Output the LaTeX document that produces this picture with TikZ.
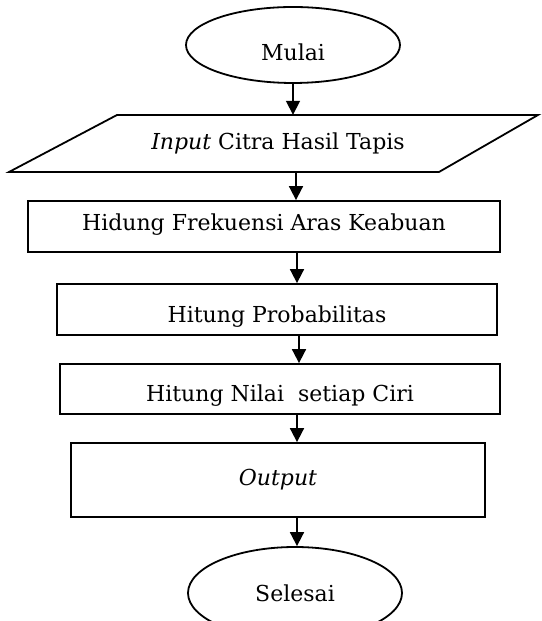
\documentclass[tikz,border=0pt]{standalone}
\usepackage{fontspec}
\setmainfont{DejaVu Serif}
\usetikzlibrary{shapes.geometric,arrows.meta}
\begin{document}
\begin{tikzpicture}[x=1pt,y=1pt,
  every node/.style={font=\fontsize{22}{26}\selectfont},
  term/.style={draw,ellipse,line width=1.8pt,minimum width=214pt,minimum height=76pt,inner sep=0pt},
  procbox/.style={draw,rectangle,line width=1.8pt,inner sep=0pt},
  flow/.style={line width=1.8pt,-{Triangle[width=14pt,length=14pt]}}]
\useasboundingbox (0,0) rectangle (541,621);
\node[term,label={[yshift=-7pt]center:Mulai}] (mulai) at (293,576) {};
% parallelogram
\coordinate (pTL) at (117,506);
\coordinate (pTR) at (538,506);
\coordinate (pBR) at (439,449);
\coordinate (pBL) at (9,449);
\draw[line width=1.8pt,line join=miter] (pTL)--(pTR)--(pBR)--(pBL)--cycle;
\node[minimum height=57pt,minimum width=330pt,inner sep=0pt] (inp) at (278,477.5) {\textit{Input} Citra Hasil Tapis};
\node[procbox,minimum width=472pt,minimum height=51pt,label={[yshift=2pt]center:Hidung Frekuensi Aras Keabuan}] (frek) at (264,394.5) {};
\node[procbox,minimum width=440pt,minimum height=51pt,label={[yshift=-7pt]center:Hitung Probabilitas}] (prob) at (277,311.5) {};
\node[procbox,minimum width=440pt,minimum height=50pt,label={[yshift=-7pt]center:Hitung Nilai\ \ setiap Ciri}] (nilai) at (280,232) {};
\node[procbox,minimum width=414pt,minimum height=74pt] (out) at (278,141) {\textit{Output}};
\node[term,minimum width=214pt,minimum height=92pt] (selesai) at (295,28) {Selesai};
\coordinate (a2) at (296,449);
\coordinate (a3) at (297,369);
\coordinate (a4) at (299,286);
\coordinate (a5) at (297,207);
\coordinate (a6) at (297,104);
\draw[flow] (mulai.south) -- (mulai.south |- inp.north);
\draw[flow] (a2) -- (a2 |- frek.north);
\draw[flow] (a3) -- (a3 |- prob.north);
\draw[flow] (a4) -- (a4 |- nilai.north);
\draw[flow] (a5) -- (a5 |- out.north);
\draw[flow] (a6) -- (a6 |- selesai.north);
\end{tikzpicture}
\end{document}
